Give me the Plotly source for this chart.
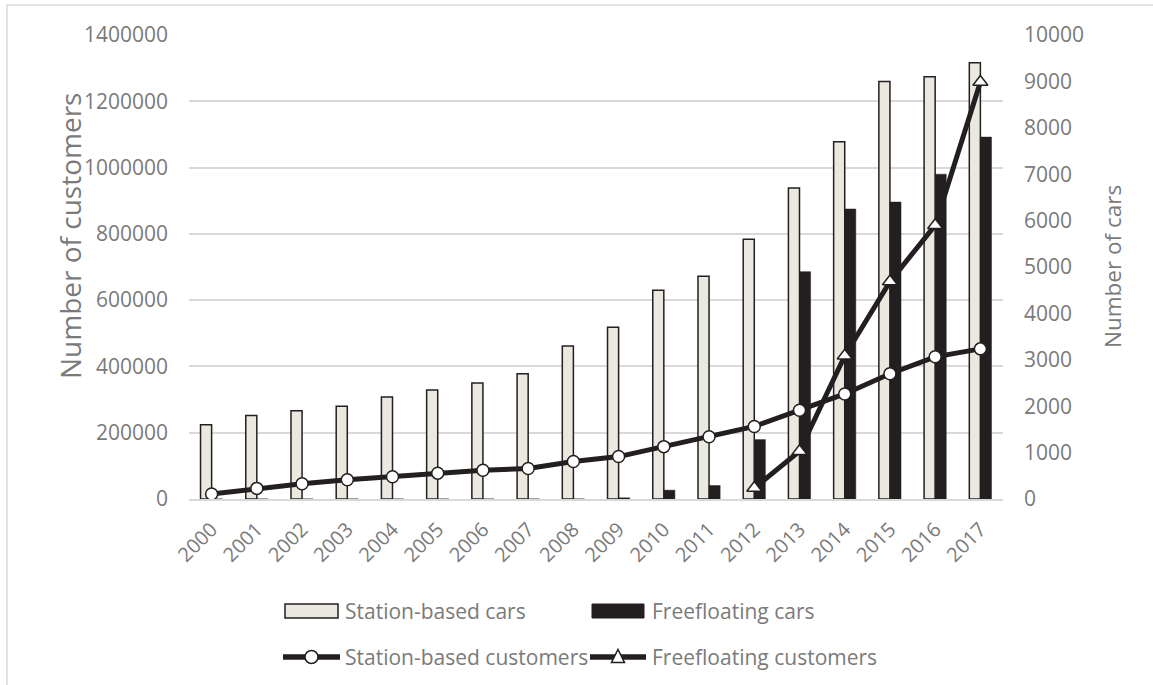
import plotly.graph_objects as go

# Car sharing in Germany, 2000-2017
years = [str(y) for y in range(2000, 2018)]

station_cars = [1600, 1800, 1900, 2000, 2200, 2350, 2500, 2700, 3300, 3700,
                4500, 4800, 5600, 6700, 7700, 9000, 9100, 9400]
freefloating_cars = [0, 0, 0, 0, 0, 0, 0, 0, 0, 25,
                     190, 290, 1280, 4900, 6250, 6400, 7000, 7800]

station_customers = [15000, 32000, 46000, 58000, 67000, 78000, 87000, 92000, 113000,
                     128000, 158000, 188000, 219000, 268000, 317000, 378000, 429000, 453000]
freefloating_customers = [None] * 12 + [33000, 144000, 432000, 656000, 826000, 1258000]

series_names = ["Station-based cars", "Freefloating cars",
                "Station-based customers", "Freefloating customers"]

DARK = "#231F20"
BEIGE = "#EBE9DF"
GRID = "#D9D9D9"
TEXT = "#7A7A7A"
FONT = "Open Sans"

W, H = 1153, 685
ML, MR, MT, MB = 189, 150, 35, 186
PW, PH = W - ML - MR, H - MT - MB


def px_x(p):
    """Page pixel column -> paper x."""
    return (p - ML) / PW


def px_y(p):
    """Page pixel row -> paper y."""
    return (H - MB - p) / PH


fig = go.Figure()

# cars: bars on the primary (right-hand) axis
fig.add_trace(go.Bar(
    x=years, y=station_cars, name=series_names[0],
    marker=dict(color=BEIGE, line=dict(color=DARK, width=1.5)),
    yaxis="y", showlegend=False,
))
fig.add_trace(go.Bar(
    x=years, y=freefloating_cars, name=series_names[1],
    marker=dict(color=DARK, line=dict(color=DARK, width=0.5)),
    yaxis="y", showlegend=False,
))

# customers: lines on the overlaid (left-hand) axis, drawn above the bars
fig.add_trace(go.Scatter(
    x=years, y=station_customers, name=series_names[2],
    mode="lines+markers",
    line=dict(color=DARK, width=5),
    marker=dict(symbol="circle", size=12, color="white", line=dict(color=DARK, width=1.5)),
    yaxis="y2", showlegend=False,
))
fig.add_trace(go.Scatter(
    x=years, y=freefloating_customers, name=series_names[3],
    mode="lines+markers",
    line=dict(color=DARK, width=5),
    marker=dict(symbol="triangle-up", size=13, color="white", line=dict(color=DARK, width=1.5)),
    yaxis="y2", showlegend=False,
))

# legend: two rows of keys below the axis
shapes = []
annotations = []
leg_font = dict(family=FONT, size=21, color=TEXT)
row1, row2 = 611, 657
col_keys = [(285, 338), (592, 644)]
col_text = [343, 650]

# bar keys
shapes.append(dict(type="rect", xref="paper", yref="paper",
                   x0=px_x(col_keys[0][0]), x1=px_x(col_keys[0][1]),
                   y0=px_y(row1 + 7), y1=px_y(row1 - 7),
                   fillcolor=BEIGE, line=dict(color=DARK, width=1.5)))
shapes.append(dict(type="rect", xref="paper", yref="paper",
                   x0=px_x(col_keys[1][0]), x1=px_x(col_keys[1][1]),
                   y0=px_y(row1 + 7), y1=px_y(row1 - 7),
                   fillcolor=DARK, line=dict(color=DARK, width=1)))
# line keys
for (a, b) in col_keys:
    shapes.append(dict(type="line", xref="paper", yref="paper",
                       x0=px_x(a - 2), x1=px_x(b + 2), y0=px_y(row2), y1=px_y(row2),
                       line=dict(color=DARK, width=5.5)))
cx1 = (col_keys[0][0] + col_keys[0][1]) / 2
cx2 = (col_keys[1][0] + col_keys[1][1]) / 2
shapes.append(dict(type="circle", xref="paper", yref="paper",
                   xsizemode="pixel", ysizemode="pixel",
                   xanchor=px_x(cx1), yanchor=px_y(row2),
                   x0=-6.5, x1=6.5, y0=-6.5, y1=6.5,
                   fillcolor="white", line=dict(color=DARK, width=1.5)))
shapes.append(dict(type="path", xref="paper", yref="paper",
                   xsizemode="pixel", ysizemode="pixel",
                   xanchor=px_x(cx2), yanchor=px_y(row2),
                   path="M -6.5 -5.5 L 6.5 -5.5 L 0 7.5 Z",
                   fillcolor="white", line=dict(color=DARK, width=1.5)))

for name, col, row in [(series_names[0], 0, row1), (series_names[1], 1, row1),
                       (series_names[2], 0, row2), (series_names[3], 1, row2)]:
    annotations.append(dict(text=name, xref="paper", yref="paper",
                            x=px_x(col_text[col]), y=px_y(row),
                            xanchor="left", yanchor="middle", showarrow=False,
                            font=leg_font))

# axis titles
annotations.append(dict(text="Number of customers", xref="paper", yref="paper",
                        x=px_x(70), y=px_y(236), textangle=-90,
                        xanchor="center", yanchor="middle", showarrow=False,
                        font=dict(family=FONT, size=28, color=TEXT)))
annotations.append(dict(text="Number of cars", xref="paper", yref="paper",
                        x=px_x(1112), y=px_y(267), textangle=-90,
                        xanchor="center", yanchor="middle", showarrow=False,
                        font=dict(family=FONT, size=22.5, color=TEXT)))

# outer chart border
shapes.append(dict(type="rect", xref="paper", yref="paper", layer="below",
                   x0=px_x(7), x1=px_x(W + 10), y0=px_y(H + 10), y1=px_y(5),
                   line=dict(color=GRID, width=1.5), fillcolor="rgba(0,0,0,0)"))

tick_font = dict(family=FONT, size=21, color=TEXT)

fig.update_layout(
    width=W, height=H,
    margin=dict(l=ML, r=MR, t=MT, b=MB, autoexpand=False),
    paper_bgcolor="white", plot_bgcolor="white",
    barmode="group", bargap=0.51, bargroupgap=0,
    font=dict(family=FONT, color=TEXT),
    showlegend=False,
    xaxis=dict(
        type="category", range=[-0.5, len(years) - 0.5], tickangle=-45,
        tickfont=dict(family=FONT, size=20, color=TEXT),
        showgrid=False, showline=True, linecolor=GRID, linewidth=1.5,
        ticks="", ticklabelstandoff=9,
    ),
    yaxis=dict(
        side="right", range=[0, 10000], dtick=1000, tickformat="d",
        showgrid=False, zeroline=False, showline=False,
        tickfont=tick_font, ticklabelstandoff=20,
    ),
    yaxis2=dict(
        side="left", overlaying="y", range=[0, 1400000], dtick=200000, tickformat="d",
        showgrid=True, gridcolor=GRID, gridwidth=1.5, zeroline=False, showline=False,
        tickfont=tick_font, ticklabelstandoff=20,
    ),
    shapes=shapes,
    annotations=annotations,
)

fig.write_html("out.html")
